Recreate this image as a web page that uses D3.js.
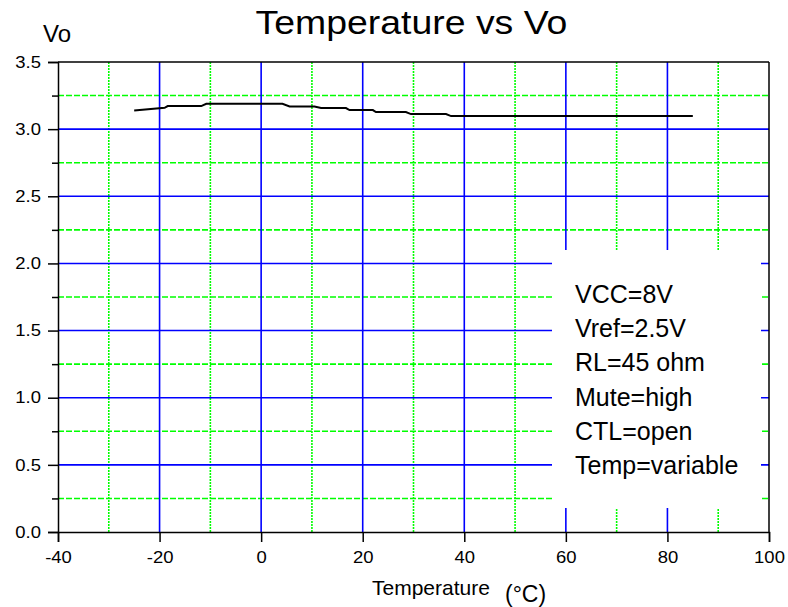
<!DOCTYPE html>
<html>
<head>
<meta charset="utf-8">
<script src="https://cdn.jsdelivr.net/npm/d3@7"></script>
<style>
  html, body { margin: 0; padding: 0; background: #fff; }
  svg { display: block; font-family: "Liberation Sans", Arial, sans-serif; }
</style>
</head>
<body>
<svg id="chart" width="788" height="607"></svg>
<script>
// ---- data ----
const temperature = [-25, -19, -18.4, -11.8, -10.8, 4.2, 5.6, 10.5, 11.8, 16.7, 17.4, 22, 22.6, 28.5, 29.5, 36.4, 37.4, 85];
const vo          = [3.139, 3.159, 3.172, 3.172, 3.189, 3.189, 3.169, 3.169, 3.157, 3.157, 3.142, 3.142, 3.127, 3.127, 3.112, 3.112, 3.097, 3.097];
const xMajorTicks = [-40, -20, 0, 20, 40, 60, 80, 100];
const xMinorTicks = [-30, -10, 10, 30, 50, 70, 90];
const yMajorTicks = [0.0, 0.5, 1.0, 1.5, 2.0, 2.5, 3.0, 3.5];
const yMinorTicks = [0.25, 0.75, 1.25, 1.75, 2.25, 2.75, 3.25];
const legendLines = ["VCC=8V", "Vref=2.5V", "RL=45 ohm", "Mute=high", "CTL=open", "Temp=variable"];
const titleText = "Temperature vs Vo";

// ---- layout ----
const L = 58, R = 769, T = 62, B = 532;
const svg = d3.select("#chart");
const x = d3.scaleLinear().domain([-40, 100]).range([L, R]);
const y = d3.scaleLinear().domain([0, 3.5]).range([B, T]);
const blue = "#0000ff", green = "#00ff00";
const sx = 1.12; // horizontal text stretch

// grid: minor (green dashed)
svg.append("g").selectAll("line").data(yMinorTicks).join("line")
  .attr("x1", L).attr("x2", R).attr("y1", d => y(d)).attr("y2", d => y(d))
  .attr("stroke", green).attr("stroke-width", 1.6).attr("stroke-dasharray", "6,2");
svg.append("g").selectAll("line").data(xMinorTicks).join("line")
  .attr("x1", d => x(d)).attr("x2", d => x(d)).attr("y1", T).attr("y2", B)
  .attr("stroke", green).attr("stroke-width", 1.6).attr("stroke-dasharray", "2,1");
// grid: major (blue)
svg.append("g").selectAll("line").data(yMajorTicks.filter(d => d > 0 && d < 3.5)).join("line")
  .attr("x1", L).attr("x2", R).attr("y1", d => y(d)).attr("y2", d => y(d))
  .attr("stroke", blue).attr("stroke-width", 1.6);
svg.append("g").selectAll("line").data(xMajorTicks.filter(d => d > -40 && d < 100)).join("line")
  .attr("x1", d => x(d)).attr("x2", d => x(d)).attr("y1", T).attr("y2", B)
  .attr("stroke", blue).attr("stroke-width", 1.6);

// legend box (covers grid)
svg.append("rect").attr("x", 552).attr("y", 250).attr("width", 209).attr("height", 258)
  .attr("fill", "#fff");

// frame
svg.append("line").attr("x1", L).attr("x2", R).attr("y1", T).attr("y2", T).attr("stroke", "#000").attr("stroke-width", 1.5);
svg.append("line").attr("x1", R).attr("x2", R).attr("y1", T).attr("y2", B).attr("stroke", "#000").attr("stroke-width", 1.5);

// axes
const fs = 16.5;
const gx = svg.append("g").attr("transform", `translate(0,${B})`)
  .call(d3.axisBottom(x).tickValues(xMajorTicks).tickSize(10).tickPadding(9.6).tickFormat(d => String(d)));
gx.select(".domain").attr("stroke-width", 1.5);
gx.selectAll(".tick line").attr("stroke-width", 1.5);
gx.selectAll(".tick text").attr("font-size", fs).attr("font-family", "Liberation Sans, Arial, sans-serif")
  .attr("fill", "#000").attr("transform", `scale(${sx},1)`);

const gy = svg.append("g").attr("transform", `translate(${L},0)`)
  .call(d3.axisLeft(y).tickValues(yMajorTicks).tickSize(10).tickPadding(7).tickFormat(d => d.toFixed(1)));
gy.select(".domain").attr("stroke-width", 1.5);
gy.selectAll(".tick line").attr("stroke-width", 1.5);
gy.selectAll(".tick text").attr("font-size", fs).attr("font-family", "Liberation Sans, Arial, sans-serif")
  .attr("fill", "#000").attr("x", -17 / sx).attr("transform", `scale(${sx},1)`);

const gym = svg.append("g").attr("transform", `translate(${L},0)`)
  .call(d3.axisLeft(y).tickValues(yMinorTicks).tickSize(6).tickFormat(""));
gym.select(".domain").remove();
gym.selectAll(".tick line").attr("stroke-width", 1.5);

// data line
svg.append("path")
  .datum(temperature.map((t, i) => [t, vo[i]]))
  .attr("fill", "none").attr("stroke", "#000").attr("stroke-width", 2)
  .attr("d", d3.line().x(d => x(d[0])).y(d => y(d[1])));

// legend text
svg.append("g").selectAll("text").data(legendLines).join("text")
  .attr("x", 575).attr("y", (d, i) => 302.7 + i * 34.3)
  .attr("font-size", 25).attr("fill", "#000").text(d => d);

// title
svg.append("text").attr("transform", `translate(411.5,34) scale(1.1,1)`)
  .attr("text-anchor", "middle").attr("font-size", 34).attr("fill", "#000").text(titleText);

// axis labels
svg.append("text").attr("x", 43).attr("y", 41.7).attr("font-size", 24).attr("fill", "#000").text("Vo");
svg.append("text").attr("x", 372).attr("y", 595).attr("font-size", 21).attr("fill", "#000").text("Temperature");
svg.append("text").attr("x", 505).attr("y", 602).attr("font-size", 23).attr("fill", "#000").text("(°C)");
</script>
</body>
</html>
